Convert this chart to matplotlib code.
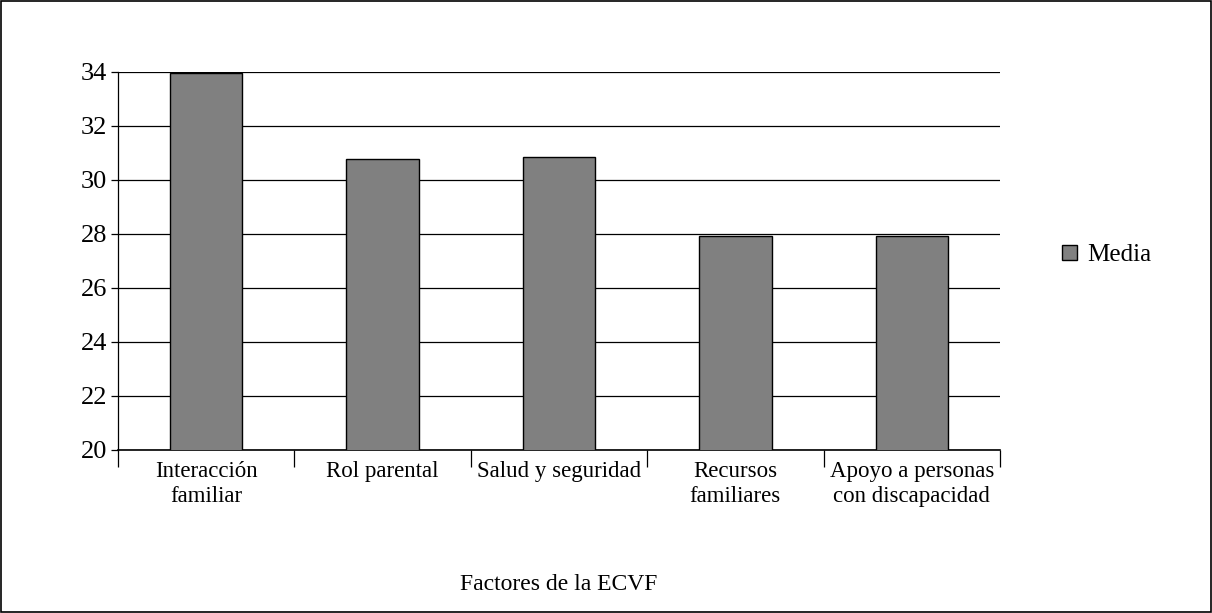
import numpy as np
import matplotlib.pyplot as plt
from matplotlib.patches import Rectangle

categorias = ['Interacción\nfamiliar', 'Rol parental', 'Salud y seguridad',
              'Recursos\nfamiliares', 'Apoyo a personas\ncon discapacidad']
media = [33.98, 30.78, 30.85, 27.93, 27.93]
yticks = [20, 22, 24, 26, 28, 30, 32, 34]

plt.rcParams['font.family'] = ['Liberation Serif', 'DejaVu Serif']

fig = plt.figure(figsize=(12.12, 6.13), dpi=100)
ax = fig.add_axes([118 / 1212, 1 - 450 / 613, (1000 - 118) / 1212, (450 - 72) / 613])

x = np.arange(len(categorias))
ax.bar(x, media, width=0.41, color='#808080', edgecolor='black', linewidth=1,
       label='Media', zorder=3)

ax.set_ylim(20, 34)
ax.set_xlim(-0.5, len(categorias) - 0.5)
ax.set_yticks(yticks)
ax.set_yticklabels([str(v) for v in yticks], fontsize=19)
ax.yaxis.grid(True, color='black', linewidth=0.9, zorder=0)
ax.tick_params(axis='y', length=5, width=0.9, pad=3)

# categorias centradas, marcas entre categorias
ax.set_xticks(x)
ax.set_xticklabels(categorias, fontsize=16.5, linespacing=1.25)
ax.tick_params(axis='x', length=0, pad=8)
ax.set_xticks(np.arange(-0.5, len(categorias)), minor=True)
ax.tick_params(axis='x', which='minor', length=12, width=0.9)

for s in ['top', 'right']:
    ax.spines[s].set_visible(False)
ax.spines['left'].set_linewidth(0.9)
ax.spines['bottom'].set_linewidth(1.2)

ax.set_xlabel('Factores de la ECVF', fontsize=17, labelpad=48)

leg = ax.legend(loc='center left', bbox_to_anchor=(1.045, 0.515), frameon=False,
                fontsize=18, handlelength=0.6, handleheight=0.6, handletextpad=0.4)

fig.patches.append(Rectangle((0.0008, 0.0016), 0.9984, 0.9968, transform=fig.transFigure,
                             fill=False, edgecolor='black', linewidth=1.2))

fig.savefig('out.png', dpi=100)
